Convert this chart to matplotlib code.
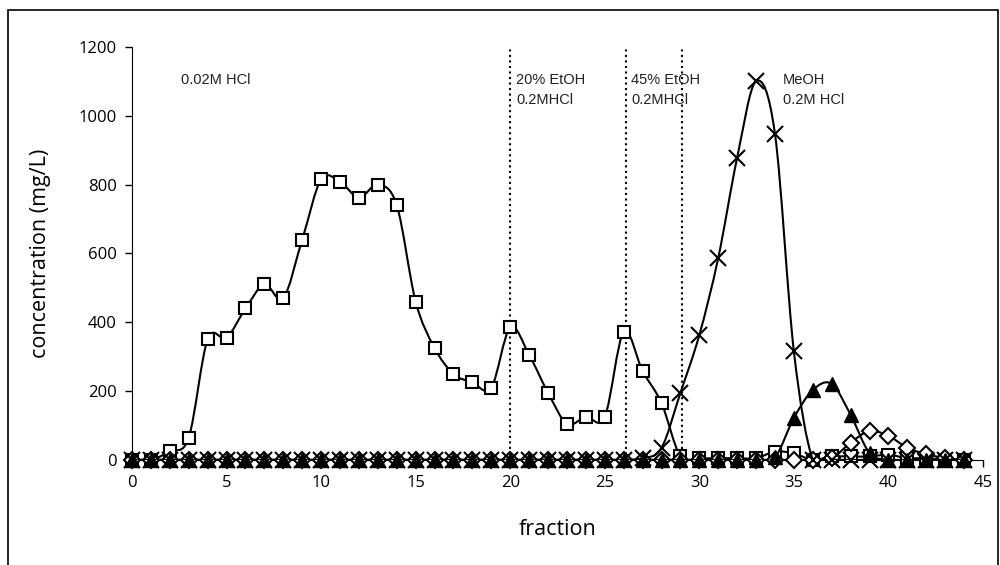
import matplotlib
matplotlib.use("Agg")
import matplotlib.pyplot as plt
from matplotlib.path import Path
from matplotlib.patches import PathPatch, Rectangle
import numpy as np

# data
fraction = list(range(45))
squares = [0, 0, 25, 65, 350, 355, 440, 510, 470, 640, 815, 808, 762, 800, 740,
           460, 325, 250, 225, 210, 385, 305, 195, 105, 125, 125, 372, 258, 165, 10,
           5, 5, 5, 5, 24, 19, 0, 10, 10, 10, 15, 5, 5, 0, 0]
crosses = [0] * 27 + [5, 35, 195, 363, 587, 878, 1100, 947, 315, 0,
                      0, 0, 0, 0, 0, 0, 0, 0]
triangles = [0] * 34 + [8, 122, 203, 221, 131, 20, 0, 0, 0, 0, 0]
diamonds = [0] * 37 + [5, 50, 84, 70, 35, 17, 5, 0]
dividers = [20, 26.1, 29.1]
labels = [(2.6, "0.02M HCl"), (20.3, "20% EtOH\n0.2MHCl"),
          (26.4, "45% EtOH\n0.2MHCl"), (34.4, "MeOH\n0.2M HCl")]


def smooth_path(x, y):
    # Excel-style smoothed line: cubic bezier through every point
    x = np.asarray(x, float)
    y = np.asarray(y, float)
    pts = np.column_stack([x, y])
    n = len(pts)
    verts = [pts[0]]
    codes = [Path.MOVETO]
    for i in range(n - 1):
        p0 = pts[i - 1] if i > 0 else pts[i]
        p1 = pts[i]
        p2 = pts[i + 1]
        p3 = pts[i + 2] if i + 2 < n else pts[i + 1]
        c1 = p1 + (p2 - p0) / 6.0
        c2 = p2 - (p3 - p1) / 6.0
        verts += [c1, c2, p2]
        codes += [Path.CURVE4] * 3
    return Path(verts, codes)


plt.rcParams['font.family'] = ['Liberation Sans', 'DejaVu Sans']

fig = plt.figure(figsize=(10, 5.65), dpi=100)
ax = fig.add_axes([0.132, 0.186, 0.851, 0.731])

series = [
    (squares, dict(marker='s', mfc='white', mec='black', ms=9, mew=1.5), 3),
    (diamonds, dict(marker='D', mfc='white', mec='black', ms=8, mew=1.5), 4),
    (crosses, dict(marker='x', mec='black', ms=11, mew=1.5), 5),
    (triangles, dict(marker='^', mfc='black', mec='black', ms=10, mew=1), 6),
]
for vals, style, z in series:
    ax.add_patch(PathPatch(smooth_path(fraction, vals), fill=False,
                           edgecolor='black', lw=1.5, zorder=z))
    ax.plot(fraction, vals, ls='none', zorder=z, clip_on=False, **style)

for d in dividers:
    ax.plot([d, d], [0, 1200], color='black', ls=':', lw=1.5, zorder=2)

for xl, txt in labels:
    ax.text(xl, 1125, txt, fontsize=10.5, va='top', ha='left',
            linespacing=1.55, color='#222222')

ax.set_xlim(0, 45)
ax.set_ylim(0, 1200)
ax.set_xticks(range(0, 46, 5))
ax.set_yticks(range(0, 1201, 200))
ax.spines['top'].set_visible(False)
ax.spines['right'].set_visible(False)
ax.tick_params(direction='out', length=5, width=1, labelsize=12, pad=6)
for lab in ax.get_xticklabels() + ax.get_yticklabels():
    lab.set_family(['Open Sans', 'DejaVu Sans'])
ax.set_xlabel("fraction", fontsize=15.5, family=['Open Sans', 'DejaVu Sans'], labelpad=20)
ax.set_ylabel("concentration (mg/L)", fontsize=15.5,
              family=['Open Sans', 'DejaVu Sans'], labelpad=20)

# outer frame around the chart
fig.add_artist(Rectangle((0.008, -0.05), 0.99, 1.032, transform=fig.transFigure,
                         fill=False, edgecolor='black', lw=1.2))

fig.savefig("out.png", dpi=100)
